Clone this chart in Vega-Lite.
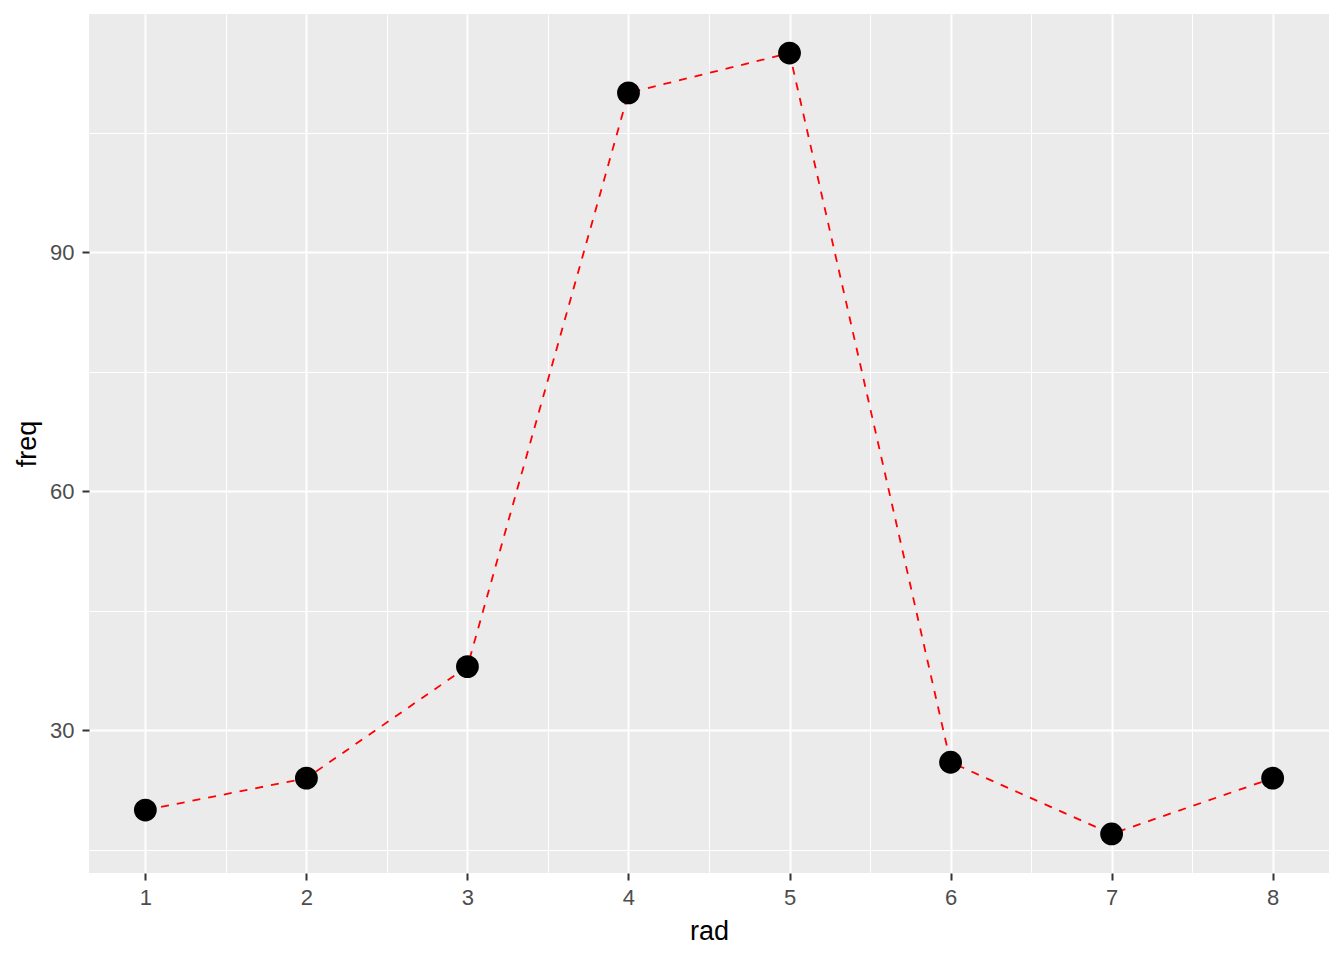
{
  "$schema": "https://vega.github.io/schema/vega-lite/v6.json",
  "autosize": {"type": "none"},
  "padding": {"left": 89, "top": 14, "right": 15, "bottom": 87},
  "width": 1240,
  "height": 859,
  "background": "white",
  "config": {
    "view": {"fill": "#EBEBEB", "stroke": null}
  },
  "data": {"values": [
    {"rad": 1, "freq": 20},
    {"rad": 2, "freq": 24},
    {"rad": 3, "freq": 38},
    {"rad": 4, "freq": 110},
    {"rad": 5, "freq": 115},
    {"rad": 6, "freq": 26},
    {"rad": 7, "freq": 17},
    {"rad": 8, "freq": 24}
  ]},
  "resolve": {"axis": {"x": "independent", "y": "independent"}},
  "layer": [
    {
      "mark": {"type": "line", "opacity": 0},
      "encoding": {
        "x": {"field": "rad", "type": "quantitative", "scale": {"domain": [0.65, 8.35], "nice": false, "zero": false},
              "axis": {"orient": "bottom", "values": [1.5, 2.5, 3.5, 4.5, 5.5, 6.5, 7.5], "labels": false, "ticks": false, "domain": false, "title": null, "grid": true, "gridColor": "white", "gridWidth": 1}},
        "y": {"field": "freq", "type": "quantitative", "scale": {"domain": [12.1, 119.9], "nice": false, "zero": false},
              "axis": {"orient": "left", "values": [15, 45, 75, 105], "labels": false, "ticks": false, "domain": false, "title": null, "grid": true, "gridColor": "white", "gridWidth": 1}}
      }
    },
    {
      "mark": {"type": "line", "color": "red", "strokeDash": [8, 8], "strokeWidth": 1.8},
      "encoding": {
        "x": {"field": "rad", "type": "quantitative",
              "axis": {"orient": "bottom", "values": [1, 2, 3, 4, 5, 6, 7, 8], "title": "rad", "grid": true, "gridColor": "white", "gridWidth": 2,
                       "domain": false, "tickColor": "#333333", "tickSize": 7, "tickWidth": 2,
                       "labelFont": "Liberation Sans", "labelFontSize": 22, "labelColor": "#4D4D4D", "labelPadding": 7,
                       "titleFont": "Liberation Sans", "titleFontSize": 27, "titleFontWeight": "normal", "titleColor": "black", "titlePadding": 10}},
        "y": {"field": "freq", "type": "quantitative",
              "axis": {"orient": "left", "values": [30, 60, 90], "title": "freq", "grid": true, "gridColor": "white", "gridWidth": 2,
                       "domain": false, "tickColor": "#333333", "tickSize": 7, "tickWidth": 2,
                       "labelFont": "Liberation Sans", "labelFontSize": 22, "labelColor": "#4D4D4D", "labelPadding": 8,
                       "titleFont": "Liberation Sans", "titleFontSize": 27, "titleFontWeight": "normal", "titleColor": "black", "titlePadding": 8}}
      }
    },
    {
      "mark": {"type": "circle", "color": "black", "opacity": 1, "size": 520},
      "encoding": {
        "x": {"field": "rad", "type": "quantitative", "axis": null},
        "y": {"field": "freq", "type": "quantitative", "axis": null}
      }
    }
  ]
}
